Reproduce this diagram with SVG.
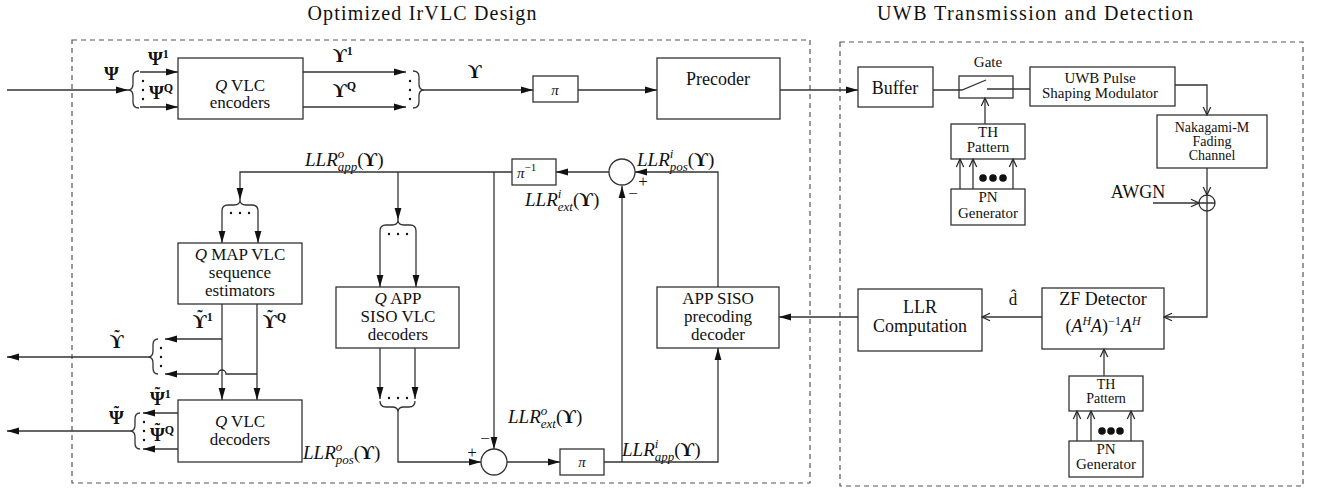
<svg xmlns="http://www.w3.org/2000/svg" width="1318" height="490" viewBox="0 0 1318 490">
<style>
text{font-family:"Liberation Serif","DejaVu Serif",serif;fill:#111}
.t{font-size:17px;text-anchor:middle}
.s{font-size:15px;text-anchor:middle}
.xs{font-size:14px;text-anchor:middle}
.ttl{font-size:20px;text-anchor:middle}
.lab{font-size:19px}
.i{font-style:italic}
.b{font-weight:bold}
.box{fill:none;stroke:#333;stroke-width:1.3}
.ln{fill:none;stroke:#333;stroke-width:1.3}
.fa{marker-end:url(#fa)}
.oa{marker-end:url(#oa)}
.frame{fill:none;stroke:#555;stroke-width:1.2;stroke-dasharray:5,4}
.dot{fill:#111}
</style>
<defs>
<marker id="fa" markerWidth="13" markerHeight="8" refX="12" refY="4" orient="auto" markerUnits="userSpaceOnUse"><path d="M0,0.6 L12,4 L0,7.4 Z" fill="#111"/></marker>
<marker id="oa" markerWidth="10" markerHeight="10" refX="9" refY="5" orient="auto" markerUnits="userSpaceOnUse"><path d="M1,1.3 L9,5 L1,8.7" fill="none" stroke="#222" stroke-width="1.2"/></marker>
</defs>

<g id="frames">
<rect class="frame" x="72" y="40" width="738" height="443"/>
<rect class="frame" x="840" y="42" width="463" height="444"/>
<text class="ttl" x="422" y="20" textLength="229" lengthAdjust="spacing">Optimized IrVLC Design</text>
<text class="ttl" x="1035" y="20" textLength="316" lengthAdjust="spacing">UWB Transmission and Detection</text>
</g>

<g id="connectors">
<path class="ln fa" d="M7,90 L128,90"/>
<path class="ln fa" d="M140,72 L178,72"/>
<path class="ln fa" d="M140,107 L178,107"/>
<path class="ln fa" d="M303,72 L406,72"/>
<path class="ln fa" d="M303,107 L406,107"/>
<path class="ln fa" d="M424,90 L533,90"/>
<path class="ln fa" d="M578,90 L657,90"/>
<path class="ln fa" d="M780,90 L858,90"/>
<path class="ln" d="M933,90 L962,90 L986,80"/>
<path class="ln" d="M987,89 L1030,89"/>
<path class="ln oa" d="M985,124 L985,98"/>
<path class="ln oa" d="M960,189 L960,159"/>
<path class="ln oa" d="M973,189 L973,159"/>
<path class="ln oa" d="M1013,189 L1013,159"/>
<path class="ln oa" d="M1175,85 L1207,85 L1207,115"/>
<path class="ln oa" d="M1207,168 L1207,195"/>
<path class="ln oa" d="M1153,203 L1199,203"/>
<path class="ln oa" d="M1207,211 L1207,317 L1164,317"/>
<path class="ln oa" d="M1042,317 L982,317"/>
<path class="ln oa" d="M1104,376 L1104,349"/>
<path class="ln oa" d="M1077,441 L1077,411"/>
<path class="ln oa" d="M1091,441 L1091,411"/>
<path class="ln oa" d="M1131,441 L1131,411"/>
<path class="ln fa" d="M858,317 L779,317"/>
<path class="ln fa" d="M718,287 L718,172 L635,172"/>
<path class="ln fa" d="M609,172 L556,172"/>
<path class="ln fa" d="M512,172 L240,172 L240,200"/>
<path class="ln fa" d="M398,172 L398,220"/>
<path class="ln fa" d="M494,172 L494,449"/>
<path class="ln fa" d="M222,211 L222,243"/>
<path class="ln fa" d="M258,211 L258,243"/>
<path class="ln fa" d="M380,231 L380,287"/>
<path class="ln fa" d="M416,231 L416,287"/>
<path class="ln fa" d="M380,348 L380,399"/>
<path class="ln fa" d="M415,348 L415,399"/>
<path class="ln fa" d="M398,412 L398,462 L481,462"/>
<path class="ln fa" d="M507,462 L560,462"/>
<path class="ln fa" d="M604,462 L718,462 L718,348"/>
<path class="ln fa" d="M622,462 L622,186"/>
<path class="ln fa" d="M222,304 L222,400"/>
<path class="ln fa" d="M257,304 L257,400"/>
<path class="ln fa" d="M222,339 L165,339"/>
<path class="ln fa" d="M257,374 L226,374 A4,4 0 0 0 218,374 L165,374"/>
<path class="ln fa" d="M148,357 L7,357"/>
<path class="ln fa" d="M178,413 L143,413"/>
<path class="ln fa" d="M178,449 L143,449"/>
<path class="ln fa" d="M130,431 L7,431"/>
<!-- braces -->
<path class="ln" d="M139,71 Q133,71 133,77 L133,84 Q133,90 128,90 Q133,90 133,96 L133,102 Q133,108 139,108"/>
<path class="ln" d="M413,71 Q419,71 419,77 L419,84 Q419,90 424,90 Q419,90 419,96 L419,102 Q419,108 413,108"/>
<path class="ln" d="M222,211 Q222,205 228,205 L234,205 Q240,205 240,200 Q240,205 246,205 L252,205 Q258,205 258,211"/>
<path class="ln" d="M380,231 Q380,225 386,225 L392,225 Q398,225 398,220 Q398,225 404,225 L410,225 Q416,225 416,231"/>
<path class="ln" d="M380,401 Q380,407 386,407 L392,407 Q398,407 398,412 Q398,407 404,407 L409,407 Q415,407 415,401"/>
<path class="ln" d="M158,339 Q153,339 153,345 L153,351 Q153,357 148,357 Q153,357 153,363 L153,368 Q153,374 158,374"/>
<path class="ln" d="M140,413 Q135,413 135,419 L135,425 Q135,431 130,431 Q135,431 135,437 L135,443 Q135,449 140,449"/>
<!-- dots -->
<g class="dot">
<circle cx="143" cy="81" r="1.2"/><circle cx="143" cy="90" r="1.2"/><circle cx="143" cy="99" r="1.2"/>
<circle cx="410" cy="81" r="1.2"/><circle cx="410" cy="90" r="1.2"/><circle cx="410" cy="99" r="1.2"/>
<circle cx="231" cy="213" r="1.2"/><circle cx="240" cy="213" r="1.2"/><circle cx="249" cy="213" r="1.2"/>
<circle cx="389" cy="234" r="1.2"/><circle cx="398" cy="234" r="1.2"/><circle cx="407" cy="234" r="1.2"/>
<circle cx="389" cy="398" r="1.2"/><circle cx="398" cy="398" r="1.2"/><circle cx="407" cy="398" r="1.2"/>
<circle cx="161" cy="348" r="1.2"/><circle cx="161" cy="357" r="1.2"/><circle cx="161" cy="366" r="1.2"/>
<circle cx="144" cy="422" r="1.2"/><circle cx="144" cy="431" r="1.2"/><circle cx="144" cy="440" r="1.2"/>
<circle cx="983" cy="178" r="3.8"/><circle cx="993" cy="178" r="3.8"/><circle cx="1003" cy="178" r="3.8"/>
<circle cx="1102" cy="431" r="3.8"/><circle cx="1111" cy="431" r="3.8"/><circle cx="1120" cy="431" r="3.8"/>
</g>
</g>

<g id="labels">
<text class="lab b" x="104" y="80">Ψ</text>
<text class="lab b" x="148" y="65">Ψ<tspan font-size="12" dy="-7">1</tspan></text>
<text class="lab b" x="149" y="99">Ψ<tspan font-size="12" dy="-7">Q</tspan></text>
<text class="lab b" x="333" y="62">ϒ<tspan font-size="12" dy="-7">1</tspan></text>
<text class="lab b" x="333" y="97">ϒ<tspan font-size="12" dy="-7">Q</tspan></text>
<text class="lab b" x="468" y="78">ϒ</text>
<text class="lab b" x="193" y="328">ϒ<tspan font-size="16" dx="-9.5" dy="-6">˜</tspan><tspan font-size="12" dx="4.2" dy="-1">1</tspan></text>
<text class="lab b" x="263" y="328">ϒ<tspan font-size="16" dx="-9.5" dy="-6">˜</tspan><tspan font-size="12" dx="4.2" dy="-1">Q</tspan></text>
<text class="lab b" x="110" y="348">ϒ<tspan font-size="16" dx="-9.5" dy="-6">˜</tspan></text>
<text class="lab b" x="150" y="405">Ψ<tspan font-size="16" dx="-10.1" dy="-6">˜</tspan><tspan font-size="12" dx="4.8" dy="-1">1</tspan></text>
<text class="lab b" x="150" y="441">Ψ<tspan font-size="16" dx="-10.1" dy="-6">˜</tspan><tspan font-size="12" dx="4.8" dy="-1">Q</tspan></text>
<text class="lab b" x="109" y="424">Ψ<tspan font-size="16" dx="-10.1" dy="-6">˜</tspan></text>
<text class="lab" x="305" y="166"><tspan class="i">LLR</tspan><tspan class="i" font-size="13" dy="-8">o</tspan><tspan class="i" font-size="13" dx="-6.5" dy="13">app</tspan><tspan dy="-5">(</tspan><tspan class="b">ϒ</tspan>)</text>
<text class="lab" x="637" y="166"><tspan class="i">LLR</tspan><tspan class="i" font-size="13" dy="-8">i</tspan><tspan class="i" font-size="13" dx="-3.6" dy="13">pos</tspan><tspan dy="-5">(</tspan><tspan class="b">ϒ</tspan>)</text>
<text class="lab" x="525" y="206"><tspan class="i">LLR</tspan><tspan class="i" font-size="13" dy="-8">i</tspan><tspan class="i" font-size="13" dx="-3.6" dy="13">ext</tspan><tspan dy="-5">(</tspan><tspan class="b">ϒ</tspan>)</text>
<text class="lab" x="508" y="423"><tspan class="i">LLR</tspan><tspan class="i" font-size="13" dy="-8">o</tspan><tspan class="i" font-size="13" dx="-6.5" dy="13">ext</tspan><tspan dy="-5">(</tspan><tspan class="b">ϒ</tspan>)</text>
<text class="lab" x="622" y="456"><tspan class="i">LLR</tspan><tspan class="i" font-size="13" dy="-8">i</tspan><tspan class="i" font-size="13" dx="-3.6" dy="13">app</tspan><tspan dy="-5">(</tspan><tspan class="b">ϒ</tspan>)</text>
<text class="lab" x="303" y="459"><tspan class="i">LLR</tspan><tspan class="i" font-size="13" dy="-8">o</tspan><tspan class="i" font-size="13" dx="-6.5" dy="13">pos</tspan><tspan dy="-5">(</tspan><tspan class="b">ϒ</tspan>)</text>
<text class="t" x="1013" y="305">d̂</text>
<text x="1138" y="198" font-size="18" text-anchor="middle">AWGN</text>
<text class="s" x="988" y="67">Gate</text>
<text x="643" y="187" font-size="17" text-anchor="middle">+</text>
<text x="633" y="199" font-size="17" text-anchor="middle">−</text>
<text x="472" y="458" font-size="17" text-anchor="middle">+</text>
<text x="485" y="444" font-size="17" text-anchor="middle">−</text>
</g>

<g id="vlc-encoders">
<rect class="box" x="178" y="58" width="125" height="61"/>
<text class="t" x="240" y="91"><tspan class="i">Q</tspan> VLC</text>
<text class="t" x="240" y="108">encoders</text>
</g>
<g id="interleaver">
<rect class="box" x="533" y="76" width="45" height="26"/>
<text class="i" x="555" y="95" font-size="15" text-anchor="middle">π</text>
</g>
<g id="precoder">
<rect class="box" x="657" y="58" width="123" height="61"/>
<text x="718" y="85" font-size="18" text-anchor="middle">Precoder</text>
</g>
<g id="buffer">
<rect class="box" x="858" y="67" width="75" height="40"/>
<text x="895" y="94" font-size="18" text-anchor="middle">Buffer</text>
</g>
<g id="gate">
<rect class="box" x="959" y="76" width="54" height="22"/>
</g>
<g id="uwb-modulator">
<rect class="box" x="1030" y="67" width="145" height="39"/>
<text class="s" x="1100" y="83">UWB Pulse</text>
<text class="s" x="1100" y="98">Shaping Modulator</text>
</g>
<g id="th-pattern-tx">
<rect class="box" x="951" y="124" width="74" height="35"/>
<text class="s" x="988" y="137">TH</text>
<text class="s" x="988" y="152">Pattern</text>
</g>
<g id="pn-generator-tx">
<rect class="box" x="951" y="189" width="74" height="36"/>
<text class="s" x="988" y="202">PN</text>
<text class="s" x="988" y="218">Generator</text>
</g>
<g id="nakagami">
<rect class="box" x="1157" y="115" width="110" height="53"/>
<text class="xs" x="1212" y="132">Nakagami-M</text>
<text class="xs" x="1212" y="146">Fading</text>
<text class="xs" x="1212" y="160">Channel</text>
</g>
<g id="awgn-adder">
<circle class="box" cx="1207" cy="203" r="8"/>
<path class="ln" d="M1199,203 H1215 M1207,195 V211"/>
</g>
<g id="zf-detector">
<rect class="box" x="1042" y="288" width="122" height="61"/>
<text x="1103" y="305" font-size="18" text-anchor="middle">ZF Detector</text>
<text x="1103" y="332" font-size="18" text-anchor="middle">(<tspan class="i">A</tspan><tspan class="i" font-size="12" dy="-7">H</tspan><tspan class="i" dy="7">A</tspan>)<tspan font-size="12" dy="-7">−1</tspan><tspan class="i" dy="7">A</tspan><tspan class="i" font-size="12" dy="-7">H</tspan></text>
</g>
<g id="llr-computation">
<rect class="box" x="858" y="289" width="124" height="62"/>
<text x="920" y="313" font-size="18" text-anchor="middle">LLR</text>
<text x="920" y="332" font-size="18" text-anchor="middle">Computation</text>
</g>
<g id="th-pattern-rx">
<rect class="box" x="1069" y="376" width="74" height="35"/>
<text class="xs" x="1106" y="389">TH</text>
<text class="xs" x="1106" y="403">Pattern</text>
</g>
<g id="pn-generator-rx">
<rect class="box" x="1069" y="441" width="74" height="36"/>
<text class="s" x="1106" y="454">PN</text>
<text class="s" x="1106" y="469">Generator</text>
</g>
<g id="app-siso-precoding">
<rect class="box" x="657" y="287" width="122" height="61"/>
<text class="t" x="718" y="304">APP SISO</text>
<text class="t" x="718" y="322">precoding</text>
<text class="t" x="718" y="340">decoder</text>
</g>
<g id="deinterleaver">
<rect class="box" x="512" y="159" width="44" height="26"/>
<text x="517" y="178" font-size="15"><tspan class="i">π</tspan><tspan font-size="11" dy="-7">−1</tspan></text>
</g>
<g id="sum-upper">
<circle class="box" cx="622" cy="172" r="13"/>
</g>
<g id="map-estimators">
<rect class="box" x="178" y="243" width="124" height="61"/>
<text class="t" x="240" y="260"><tspan class="i">Q</tspan> MAP VLC</text>
<text class="t" x="240" y="278">sequence</text>
<text class="t" x="240" y="296">estimators</text>
</g>
<g id="app-siso-vlc">
<rect class="box" x="336" y="287" width="123" height="61"/>
<text class="t" x="398" y="304"><tspan class="i">Q</tspan> APP</text>
<text class="t" x="398" y="322">SISO VLC</text>
<text class="t" x="398" y="340">decoders</text>
</g>
<g id="vlc-decoders">
<rect class="box" x="178" y="400" width="124" height="62"/>
<text class="t" x="240" y="427"><tspan class="i">Q</tspan> VLC</text>
<text class="t" x="240" y="445">decoders</text>
</g>
<g id="sum-lower">
<circle class="box" cx="494" cy="462" r="13"/>
</g>
<g id="interleaver-2">
<rect class="box" x="560" y="449" width="44" height="26"/>
<text class="i" x="582" y="467" font-size="15" text-anchor="middle">π</text>
</g>
</svg>
